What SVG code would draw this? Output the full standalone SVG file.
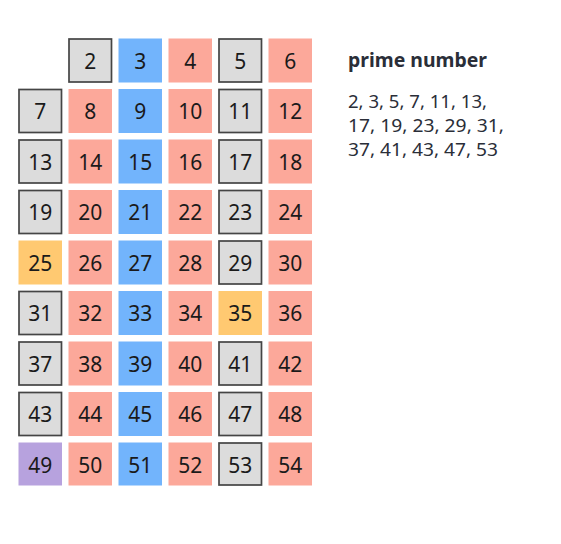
<svg xmlns="http://www.w3.org/2000/svg" width="561" height="544" viewBox="0 0 561 544">
<style>
.c rect{stroke:none}
.g rect{fill:#dcdcdc;stroke:#454545;stroke-width:1.7}
.s rect{fill:#fca89a}
.b rect{fill:#72b4fc}
.o rect{fill:#ffc971}
.p rect{fill:#b7a2de}
.c text{font-family:"Noto Sans","Open Sans",sans-serif;font-size:21px;fill:#1a1a1a;text-anchor:middle}
.t{font-family:"Noto Sans","Open Sans",sans-serif;fill:#2a2e38}
</style>
<rect width="561" height="544" fill="#ffffff"/>
<g id="n2" class="c g"><rect x="69" y="39" width="42.5" height="43"/><text x="90.2" y="68.5">2</text></g>
<g id="n3" class="c b"><rect x="118.5" y="38.5" width="43.5" height="44"/><text x="140.2" y="68.5">3</text></g>
<g id="n4" class="c s"><rect x="168.5" y="38.5" width="43.5" height="44"/><text x="190.2" y="68.5">4</text></g>
<g id="n5" class="c g"><rect x="219" y="39" width="42.5" height="43"/><text x="240.2" y="68.5">5</text></g>
<g id="n6" class="c s"><rect x="268.5" y="38.5" width="43.5" height="44"/><text x="290.2" y="68.5">6</text></g>

<g id="n7" class="c g"><rect x="19" y="89.5" width="42.5" height="43"/><text x="40.2" y="119">7</text></g>
<g id="n8" class="c s"><rect x="68.5" y="89" width="43.5" height="44"/><text x="90.2" y="119">8</text></g>
<g id="n9" class="c b"><rect x="118.5" y="89" width="43.5" height="44"/><text x="140.2" y="119">9</text></g>
<g id="n10" class="c s"><rect x="168.5" y="89" width="43.5" height="44"/><text x="190.2" y="119">10</text></g>
<g id="n11" class="c g"><rect x="219" y="89.5" width="42.5" height="43"/><text x="240.2" y="119">11</text></g>
<g id="n12" class="c s"><rect x="268.5" y="89" width="43.5" height="44"/><text x="290.2" y="119">12</text></g>

<g id="n13" class="c g"><rect x="19" y="140" width="42.5" height="43"/><text x="40.2" y="169.5">13</text></g>
<g id="n14" class="c s"><rect x="68.5" y="139.5" width="43.5" height="44"/><text x="90.2" y="169.5">14</text></g>
<g id="n15" class="c b"><rect x="118.5" y="139.5" width="43.5" height="44"/><text x="140.2" y="169.5">15</text></g>
<g id="n16" class="c s"><rect x="168.5" y="139.5" width="43.5" height="44"/><text x="190.2" y="169.5">16</text></g>
<g id="n17" class="c g"><rect x="219" y="140" width="42.5" height="43"/><text x="240.2" y="169.5">17</text></g>
<g id="n18" class="c s"><rect x="268.5" y="139.5" width="43.5" height="44"/><text x="290.2" y="169.5">18</text></g>

<g id="n19" class="c g"><rect x="19" y="190.5" width="42.5" height="43"/><text x="40.2" y="220">19</text></g>
<g id="n20" class="c s"><rect x="68.5" y="190" width="43.5" height="44"/><text x="90.2" y="220">20</text></g>
<g id="n21" class="c b"><rect x="118.5" y="190" width="43.5" height="44"/><text x="140.2" y="220">21</text></g>
<g id="n22" class="c s"><rect x="168.5" y="190" width="43.5" height="44"/><text x="190.2" y="220">22</text></g>
<g id="n23" class="c g"><rect x="219" y="190.5" width="42.5" height="43"/><text x="240.2" y="220">23</text></g>
<g id="n24" class="c s"><rect x="268.5" y="190" width="43.5" height="44"/><text x="290.2" y="220">24</text></g>

<g id="n25" class="c o"><rect x="18.5" y="240.5" width="43.5" height="44"/><text x="40.2" y="270.5">25</text></g>
<g id="n26" class="c s"><rect x="68.5" y="240.5" width="43.5" height="44"/><text x="90.2" y="270.5">26</text></g>
<g id="n27" class="c b"><rect x="118.5" y="240.5" width="43.5" height="44"/><text x="140.2" y="270.5">27</text></g>
<g id="n28" class="c s"><rect x="168.5" y="240.5" width="43.5" height="44"/><text x="190.2" y="270.5">28</text></g>
<g id="n29" class="c g"><rect x="219" y="241" width="42.5" height="43"/><text x="240.2" y="270.5">29</text></g>
<g id="n30" class="c s"><rect x="268.5" y="240.5" width="43.5" height="44"/><text x="290.2" y="270.5">30</text></g>

<g id="n31" class="c g"><rect x="19" y="291.5" width="42.5" height="43"/><text x="40.2" y="321">31</text></g>
<g id="n32" class="c s"><rect x="68.5" y="291" width="43.5" height="44"/><text x="90.2" y="321">32</text></g>
<g id="n33" class="c b"><rect x="118.5" y="291" width="43.5" height="44"/><text x="140.2" y="321">33</text></g>
<g id="n34" class="c s"><rect x="168.5" y="291" width="43.5" height="44"/><text x="190.2" y="321">34</text></g>
<g id="n35" class="c o"><rect x="218.5" y="291" width="43.5" height="44"/><text x="240.2" y="321">35</text></g>
<g id="n36" class="c s"><rect x="268.5" y="291" width="43.5" height="44"/><text x="290.2" y="321">36</text></g>

<g id="n37" class="c g"><rect x="19" y="342" width="42.5" height="43"/><text x="40.2" y="371.5">37</text></g>
<g id="n38" class="c s"><rect x="68.5" y="341.5" width="43.5" height="44"/><text x="90.2" y="371.5">38</text></g>
<g id="n39" class="c b"><rect x="118.5" y="341.5" width="43.5" height="44"/><text x="140.2" y="371.5">39</text></g>
<g id="n40" class="c s"><rect x="168.5" y="341.5" width="43.5" height="44"/><text x="190.2" y="371.5">40</text></g>
<g id="n41" class="c g"><rect x="219" y="342" width="42.5" height="43"/><text x="240.2" y="371.5">41</text></g>
<g id="n42" class="c s"><rect x="268.5" y="341.5" width="43.5" height="44"/><text x="290.2" y="371.5">42</text></g>

<g id="n43" class="c g"><rect x="19" y="392.5" width="42.5" height="43"/><text x="40.2" y="422">43</text></g>
<g id="n44" class="c s"><rect x="68.5" y="392" width="43.5" height="44"/><text x="90.2" y="422">44</text></g>
<g id="n45" class="c b"><rect x="118.5" y="392" width="43.5" height="44"/><text x="140.2" y="422">45</text></g>
<g id="n46" class="c s"><rect x="168.5" y="392" width="43.5" height="44"/><text x="190.2" y="422">46</text></g>
<g id="n47" class="c g"><rect x="219" y="392.5" width="42.5" height="43"/><text x="240.2" y="422">47</text></g>
<g id="n48" class="c s"><rect x="268.5" y="392" width="43.5" height="44"/><text x="290.2" y="422">48</text></g>

<g id="n49" class="c p"><rect x="18.5" y="442.5" width="43.5" height="43"/><text x="40.2" y="472.5">49</text></g>
<g id="n50" class="c s"><rect x="68.5" y="442.5" width="43.5" height="43"/><text x="90.2" y="472.5">50</text></g>
<g id="n51" class="c b"><rect x="118.5" y="442.5" width="43.5" height="43"/><text x="140.2" y="472.5">51</text></g>
<g id="n52" class="c s"><rect x="168.5" y="442.5" width="43.5" height="43"/><text x="190.2" y="472.5">52</text></g>
<g id="n53" class="c g"><rect x="219" y="443" width="42.5" height="42"/><text x="240.2" y="472.5">53</text></g>
<g id="n54" class="c s"><rect x="268.5" y="442.5" width="43.5" height="43"/><text x="290.2" y="472.5">54</text></g>

<g id="legend">
<text class="t" x="348" y="67" font-size="19.5" font-weight="bold" textLength="139" lengthAdjust="spacingAndGlyphs">prime number</text>
<text class="t" x="348" y="108" font-size="18.5" textLength="139" lengthAdjust="spacingAndGlyphs">2, 3, 5, 7, 11, 13,</text>
<text class="t" x="348" y="132" font-size="18.5" textLength="156" lengthAdjust="spacingAndGlyphs">17, 19, 23, 29, 31,</text>
<text class="t" x="348" y="156" font-size="18.5" textLength="150" lengthAdjust="spacingAndGlyphs">37, 41, 43, 47, 53</text>
</g>
<g id="connectors"/>
</svg>
